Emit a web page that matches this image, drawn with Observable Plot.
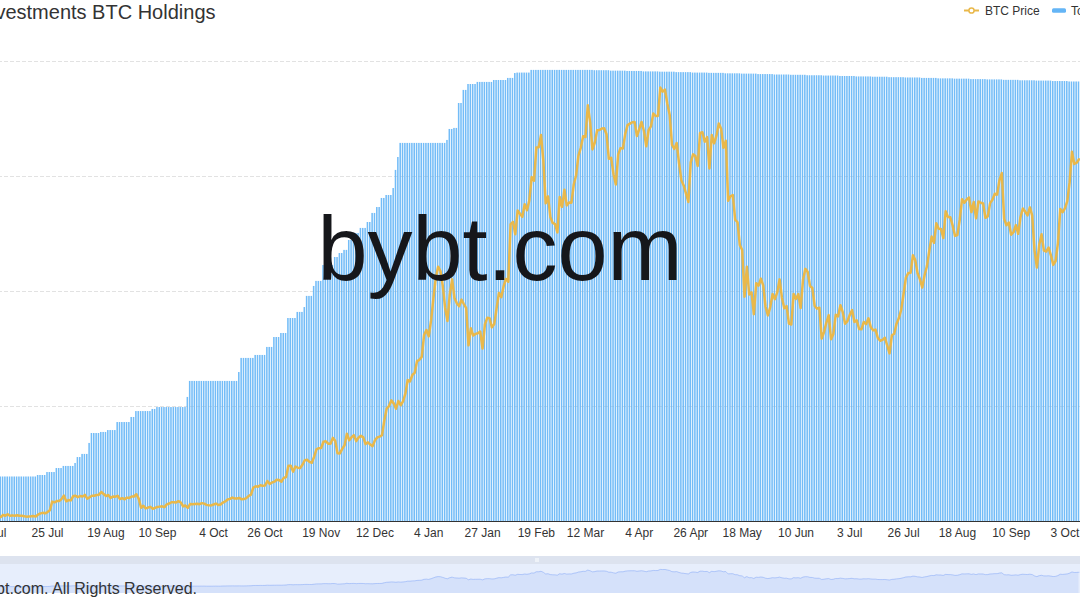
<!DOCTYPE html>
<html>
<head>
<meta charset="utf-8">
<script src="https://cdn.jsdelivr.net/npm/d3@7"></script>
<script src="https://cdn.jsdelivr.net/npm/@observablehq/plot@0.6"></script>
<style>
  html, body { margin: 0; padding: 0; background: #ffffff; }
  #wrap { position: relative; width: 1080px; height: 600px; overflow: hidden; background: #ffffff;
          font-family: "Liberation Sans", Arial, sans-serif; }
  .abs { position: absolute; }
</style>
</head>
<body>
<div id="wrap"></div>
<script>
// ---------------- data ----------------
const titleText = "Grayscale Investments BTC Holdings";
const seriesNames = ["BTC Price", "Total BTC Holdings"];
const watermarkText = "bybt.com";
const copyrightText = "Copyright © 2021 bybt.com. All Rights Reserved.";
const firstDay = "2020-07-01";   // one category per day from here

// Grayscale BTC holdings, thousands of BTC, daily from 2020-07-01
const holdingsK = [
  // Jul 2020
  380,380,380,380,380,380,380,380,380,380,380,380,380,380,380,380,380,380,380,380,381,381,381,381,383,383,383,383,385.7,385.7,385.7,
  // Aug
  387.1,387.1,387.1,387.1,387.1,389.1,393.1,393.1,395.2,395.2,395.2,402.6,409.3,409.3,409.3,409.3,410,410,410,411.3,411.3,411.3,411.3,416.7,416.7,416.7,416.7,416.7,416.7,420.1,420.1,
  // Sep
  424.1,424.1,424.1,424.1,424.1,424.1,424.1,425.5,425.5,426.8,426.8,426.8,426.8,426.8,426.8,426.8,426.8,426.8,426.8,426.8,426.8,426.8,433.6,444.4,444.4,444.4,444.4,444.4,444.4,444.4,
  // Oct
  444.4,444.4,444.4,444.4,444.4,444.4,444.4,444.4,444.4,444.4,444.4,444.4,444.4,444.4,450.4,459.9,459.9,459.9,459.9,459.9,459.9,461.9,461.9,461.9,461.9,461.9,467.3,467.3,467.3,474,474,
  // Nov
  474,476.7,476.7,476.7,486.8,486.8,486.8,486.8,490.9,490.9,490.9,494.2,501.7,501.7,501.7,508.4,511.8,511.8,511.8,522.5,522.5,522.5,522.5,522.5,527.9,527.9,530.6,530.6,532.7,532.7,
  // Dec
  539.4,539.4,539.4,544.1,544.1,547.5,547.5,547.5,551.5,551.5,557.6,557.6,561.6,561.6,567.7,567.7,569.7,569.7,569.7,574.4,586.6,595.3,604.8,604.8,604.8,604.8,604.8,604.8,604.8,604.8,604.8,
  // Jan 2021
  604.8,604.8,604.8,604.8,604.8,604.8,604.8,604.8,604.8,604.8,604.8,606.8,614.2,614.2,614.9,614.9,631.7,631.7,640.5,640.5,644.5,644.5,644.5,644.5,645.9,645.9,645.9,645.9,645.9,645.9,645.9,
  // Feb
  647.2,647.2,647.2,647.2,647.2,647.2,648.6,648.6,648.6,651.9,652.2,652.2,652.2,652.2,652.2,652.2,654,654,654,654,654,654,654,654,654,654,654,654,
  // Mar
  654,654,654,654,654,654,654,654,654,654,654,654,654,654,654,653.8,653.8,653.8,653.8,653.8,653.8,653.8,653.5,653.5,653.5,653.5,653.5,653.5,653.5,653.3,653.3,
  // Apr
  653.3,653.3,653.3,653.3,653.3,653,653,653,653,653,653,653,652.8,652.8,652.8,652.8,652.8,652.8,652.8,652.5,652.5,652.5,652.5,652.5,652.5,652.5,652.2,652.2,652.2,652.2,
  // May
  652.2,652.2,652.2,652,652,652,652,652,652,652,651.7,651.7,651.7,651.7,651.7,651.7,651.7,651.5,651.5,651.5,651.5,651.5,651.5,651.5,651.2,651.2,651.2,651.2,651.2,651.2,651.2,
  // Jun
  650.9,650.9,650.9,650.9,650.9,650.9,650.9,650.7,650.7,650.7,650.7,650.7,650.7,650.7,650.4,650.4,650.4,650.4,650.4,650.4,650.4,650.2,650.2,650.2,650.2,650.2,650.2,650.2,649.9,649.9,
  // Jul
  649.9,649.9,649.9,649.9,649.9,649.6,649.6,649.6,649.6,649.6,649.6,649.6,649.4,649.4,649.4,649.4,649.4,649.4,649.4,649.1,649.1,649.1,649.1,649.1,649.1,649.1,648.9,648.9,648.9,648.9,648.9,
  // Aug
  648.9,648.9,648.6,648.6,648.6,648.6,648.6,648.6,648.6,648.3,648.3,648.3,648.3,648.3,648.3,648.3,648.1,648.1,648.1,648.1,648.1,648.1,648.1,647.8,647.8,647.8,647.8,647.8,647.8,647.8,647.6,
  // Sep
  647.6,647.6,647.6,647.6,647.6,647.6,647.3,647.3,647.3,647.3,647.3,647.3,647.3,647,647,647,647,647,647,647,646.8,646.8,646.8,646.8,646.8,646.8,646.8,646.5,646.5,646.5,
  // Oct
  646.5,646.5,646.5,646.5,646.2,646.2,646.2,646.2,646.2
];

// BTC price, USD, daily from 2020-07-01
const priceUSD = [
  // Jul 2020
  9230,9090,9060,9140,9070,9340,9250,9430,9230,9290,9240,9300,9240,9240,9190,9130,9150,9170,9210,9160,9390,9540,9610,9550,9710,9930,11030,10940,11100,11110,11350,
  // Aug
  11800,11070,11230,11190,11740,11770,11600,11750,11680,11880,11410,11580,11780,11770,11870,11910,12250,11990,11740,11870,11500,11680,11660,11770,11370,11470,11320,11540,11500,11680,11680,
  // Sep
  11970,11410,10250,10510,10170,10280,10370,10130,10240,10360,10400,10440,10330,10680,10790,10950,10950,10930,11090,10920,10420,10540,10240,10740,10690,10730,10770,10710,10840,10780,
  // Oct
  10620,10570,10550,10670,10790,10600,10670,10920,11060,11300,11380,11540,11430,11430,11500,11320,11360,11480,11740,11920,12820,12970,12930,13110,13030,13070,13650,13270,13460,13560,13800,
  // Nov
  13760,13550,14030,14150,15590,15580,14830,15480,15330,15300,15700,16280,16330,16070,15960,16720,17650,17800,17820,18620,18680,18370,18360,19110,18730,17150,17140,17720,18180,19630,
  // Dec
  18800,19200,19450,18700,19150,19360,19170,18320,18550,18260,18060,18800,19170,19270,19440,21310,22810,23140,23870,23480,22800,23780,23240,23730,24710,26440,26270,27080,27360,28840,29000,
  // Jan 2021
  29370,32130,32780,31970,33990,36820,39370,40800,40250,38360,35570,33920,37320,39190,36830,36180,35790,36630,36070,35550,30830,32990,32070,32280,32370,32570,30430,33470,34320,34270,33110,
  // Feb
  33520,35510,37470,36930,38290,39260,38900,46200,46480,44920,47910,47500,47110,48720,47940,49200,52150,51680,55890,55920,57490,54210,48820,49710,47080,46340,46190,45140,
  // Mar
  49630,48380,50540,48560,48930,48910,51210,52380,54880,55860,57330,57230,61240,59110,55650,56530,58080,58110,58300,58330,57570,54470,54590,52510,51210,55030,55820,55780,57630,58730,58920,
  // Apr
  59100,59140,57340,58220,59130,57990,56050,58120,58570,60200,59890,59900,63500,62970,63230,61450,60060,56220,55720,56470,53910,51760,51090,50050,49000,54020,55030,54820,53550,57750,
  // May
  57830,56630,57210,53240,57470,56430,57400,58930,58280,55860,56750,49150,49720,49880,46760,46430,43540,42910,37000,40780,37280,37540,34770,38710,38400,39290,38440,35690,34620,35680,37340,
  // Jun
  36690,37570,39190,36870,35520,35800,33590,33470,37350,36700,37330,35550,39100,40520,40140,38350,38090,35820,35480,35600,31680,32510,33720,34660,31590,32280,34700,34500,35910,35040,
  // Jul
  33570,33900,34690,35290,33800,34000,32900,32870,33800,33520,34260,33130,32730,32820,31780,31420,31530,31800,30840,29810,32110,32310,33580,34290,35350,37340,39410,39990,40020,42240,41630,
  // Aug
  39970,39200,38150,39750,40870,42820,44610,43820,46290,45600,45560,44430,47810,47100,47050,45990,44700,44800,46720,49340,48900,49320,49550,47710,48990,46940,49060,48900,48810,46990,47170,
  // Sep
  48850,49280,50030,49940,51770,52660,46860,46050,46400,44850,45160,46060,44960,47090,48170,47780,47300,48310,47260,42840,40690,43570,44900,42840,42720,43210,42240,41030,41520,43790,
  // Oct
  48120,47710,48200,49110,51510,55360,53810,53970,54400
];

// x-axis tick labels (category labels shown)
const tickLabels = ["2020-07-02","2020-07-25","2020-08-19","2020-09-10","2020-10-04","2020-10-26","2020-11-19",
  "2020-12-12","2021-01-04","2021-01-27","2021-02-19","2021-03-12","2021-04-04","2021-04-26","2021-05-18",
  "2021-06-10","2021-07-03","2021-07-26","2021-08-18","2021-09-10","2021-10-03"];

// ---------------- scales / layout ----------------
const holdDomain = [350000, 660000];     // left (hidden) axis
const priceDomain = [8514, 66794];       // right (hidden) axis, aligned to the same gridlines
const xDomain = [new Date("2020-06-26T08:31:00Z"), new Date("2021-10-18T04:41:00Z")];
const sliderDomain = [-12300, 78900];

const C = {
  bar: "#64b5f6", line: "#e9b84a", grid: "#e2e2e2", axis: "#333333", text: "#333333",
  strip: "#dde3ef", filler: "#e7eefc", shadow: "#8fb0f7", mark: "#16171b"
};
const FONT = '"Liberation Sans", Arial, sans-serif';

const day0 = new Date(firstDay + "T00:00:00Z");
const holdData = holdingsK.map((v, i) => ({date: d3.utcDay.offset(day0, i), h: v * 1000}));
const priceData = priceUSD.map((v, i) => ({date: d3.utcDay.offset(day0, i), p: v}));
const priceToHold = d3.scaleLinear().domain(priceDomain).range(holdDomain);
const gridValues = [1, 2, 3, 4].map(k => holdDomain[0] + (holdDomain[1] - holdDomain[0]) * k / 4);
const tickDates = tickLabels.map(s => new Date(s + "T00:00:00Z"));
const fmt = d3.utcFormat("%-d %b");

const wrap = document.getElementById("wrap");

// background of the zoom slider (drawn behind the shadow plot)
const strip = document.createElement("div");
strip.className = "abs";
Object.assign(strip.style, {left: "0px", top: "556px", width: "1080px", height: "8px", background: C.strip});
wrap.appendChild(strip);
const filler = document.createElement("div");
filler.className = "abs";
Object.assign(filler.style, {left: "0px", top: "564px", width: "1080px", height: "29px", background: C.filler});
wrap.appendChild(filler);
const grip = document.createElement("div");
grip.className = "abs";
Object.assign(grip.style, {left: "535px", top: "558px", width: "4px", height: "4px", background: "#eef2f8"});
wrap.appendChild(grip);

// ---------------- main chart ----------------
const main = Plot.plot({
  width: 1240, height: 551,
  marginLeft: 100, marginRight: 20, marginTop: 61, marginBottom: 30,
  style: {fontFamily: FONT, fontSize: "12px", color: C.text, background: "transparent", overflow: "visible"},
  x: {type: "utc", domain: xDomain, ticks: tickDates, tickFormat: fmt, tickSize: 0, tickPadding: 7, label: null},
  y: {domain: holdDomain, axis: null},
  marks: [
    Plot.ruleY(gridValues, {stroke: C.grid, strokeWidth: 1, strokeDasharray: "4,2"}),
    Plot.rectY(holdData, {
      x1: d => d3.utcHour.offset(d.date, -12), x2: d => d3.utcHour.offset(d.date, 12),
      y1: holdDomain[0], y2: "h", insetLeft: 0.4, insetRight: 0.4,
      fill: C.bar, fillOpacity: 0.9
    }),
    Plot.ruleY([holdDomain[0]], {stroke: C.axis, strokeWidth: 1}),
    Plot.line(priceData, {x: "date", y: d => priceToHold(d.p), stroke: C.line, strokeWidth: 2.5,
      strokeLinejoin: "round", strokeLinecap: "round"})
  ]
});
Object.assign(main.style, {position: "absolute", left: "-120px", top: "0px", maxWidth: "none", width: "1240px", height: "551px"});
wrap.appendChild(main);

// ---------------- zoom slider data shadow ----------------
const slider = Plot.plot({
  width: 1240, height: 37,
  marginLeft: 100, marginRight: 20, marginTop: 8, marginBottom: 0,
  style: {background: "transparent", overflow: "visible"},
  x: {type: "utc", domain: xDomain, axis: null},
  y: {domain: sliderDomain, axis: null},
  marks: [
    Plot.areaY(priceData, {x: "date", y1: sliderDomain[0], y2: "p", fill: C.shadow, fillOpacity: 0.2}),
    Plot.line(priceData, {x: "date", y: "p", stroke: C.shadow, strokeWidth: 0.8, strokeOpacity: 0.7})
  ]
});
Object.assign(slider.style, {position: "absolute", left: "-120px", top: "556px", maxWidth: "none", width: "1240px", height: "37px"});
wrap.appendChild(slider);

// ---------------- texts: title, legend, watermark, copyright ----------------
const ns = "http://www.w3.org/2000/svg";
const ov = document.createElementNS(ns, "svg");
ov.setAttribute("width", 1080); ov.setAttribute("height", 600);
Object.assign(ov.style, {position: "absolute", left: "0px", top: "0px", overflow: "hidden"});
function el(tag, attrs, text) {
  const e = document.createElementNS(ns, tag);
  for (const k in attrs) e.setAttribute(k, attrs[k]);
  if (text != null) e.textContent = text;
  ov.appendChild(e);
  return e;
}
el("text", {x: 215.5, y: 18.5, "text-anchor": "end", "font-family": FONT, "font-size": 20, fill: C.text}, titleText);
// legend
el("line", {x1: 964, x2: 979, y1: 10.5, y2: 10.5, stroke: C.line, "stroke-width": 2});
el("circle", {cx: 971.5, cy: 10.5, r: 2.6, fill: "#fff", stroke: C.line, "stroke-width": 1.5});
el("text", {x: 985, y: 14.5, "font-family": FONT, "font-size": 12, fill: C.text}, seriesNames[0]);
el("rect", {x: 1052, y: 8.3, width: 14, height: 4.5, rx: 1.5, fill: C.bar});
el("text", {x: 1071, y: 14.5, "font-family": FONT, "font-size": 12, fill: C.text}, seriesNames[1]);
// watermark
el("text", {x: 500, y: 280, "text-anchor": "middle", "font-family": FONT, "font-size": 90, fill: C.mark}, watermarkText);
// copyright
el("text", {x: 197, y: 594, "text-anchor": "end", "font-family": FONT, "font-size": 16, fill: C.text}, copyrightText);
wrap.appendChild(ov);
</script>
</body>
</html>
